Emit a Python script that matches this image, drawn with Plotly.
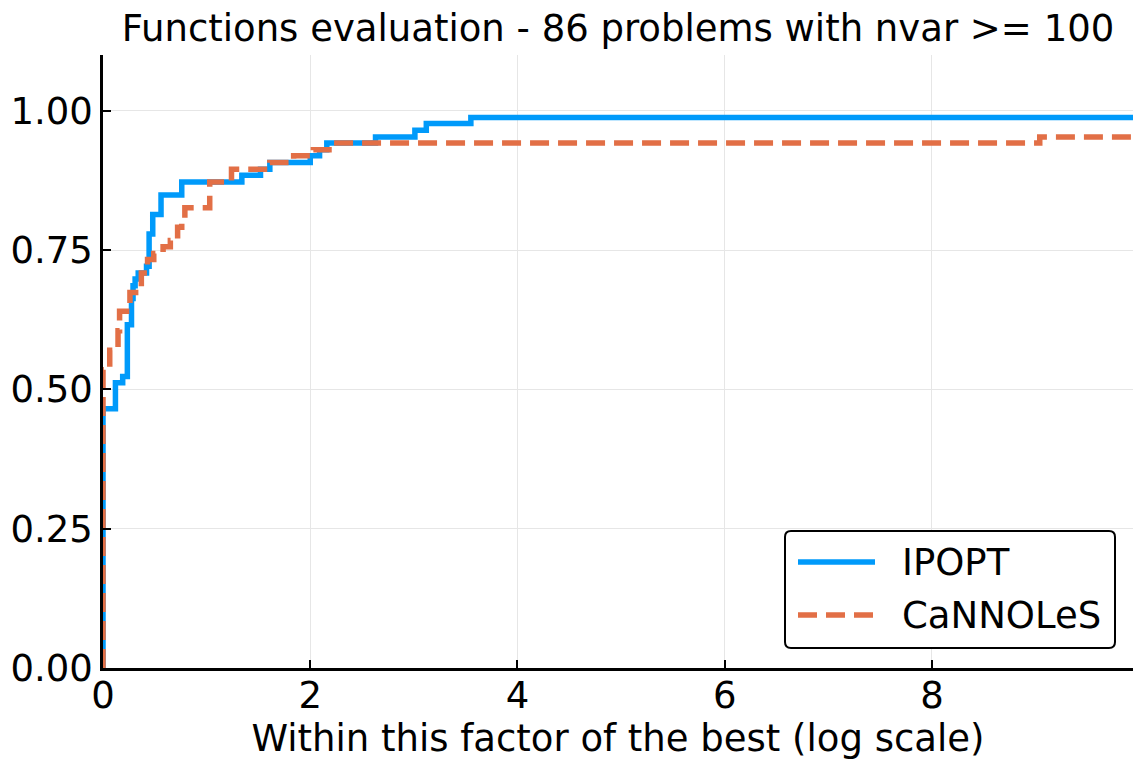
import plotly.graph_objects as go

# IPOPT step breakpoints (x: factor, y: fraction of problems)
ipopt_x = [0.0, 0.0, 0.12, 0.19, 0.235, 0.275, 0.29, 0.31, 0.34, 0.42, 0.445, 0.48, 0.56, 0.76,
           1.34, 1.52, 1.61, 2.00, 2.09, 2.16, 2.63, 3.01, 3.12, 3.55, 9.94]
ipopt_y = [0.0, 0.465, 0.512, 0.523, 0.616, 0.663, 0.686, 0.698, 0.709, 0.721, 0.779, 0.814, 0.849, 0.872,
           0.884, 0.895, 0.907, 0.919, 0.930, 0.942, 0.953, 0.965, 0.977, 0.988, 0.988]

# CaNNOLeS step breakpoints
cann_x = [0.0, 0.0, 0.065, 0.145, 0.16, 0.26, 0.37, 0.43, 0.49, 0.58, 0.65, 0.72, 0.76, 0.79,
          1.03, 1.24, 1.61, 1.84, 2.03, 2.22, 9.04, 9.94]
cann_y = [0.0, 0.535, 0.570, 0.605, 0.640, 0.674, 0.709, 0.733, 0.744, 0.756, 0.767, 0.791, 0.802, 0.826,
          0.872, 0.895, 0.907, 0.919, 0.930, 0.942, 0.953, 0.953]

x_ticks = [0, 2, 4, 6, 8]
y_ticks = [0.0, 0.25, 0.5, 0.75, 1.0]
y_tick_text = ["0.00", "0.25", "0.50", "0.75", "1.00"]

series_names = ["IPOPT", "CaNNOLeS"]
BLUE = "#009AFA"
ORANGE = "#E26F46"
FONT = "DejaVu Sans"
FS = 37

fig = go.Figure()
fig.add_trace(go.Scatter(x=ipopt_x, y=ipopt_y, mode="lines", line_shape="hv",
                         line=dict(color=BLUE, width=5.5), name=series_names[0], showlegend=False))
fig.add_trace(go.Scatter(x=cann_x, y=cann_y, mode="lines", line_shape="hv",
                         line=dict(color=ORANGE, width=5.5, dash="19px,9px"), name=series_names[1], showlegend=False))

W, H = 1133, 763
L, R, T, B = 103, 0, 55, 95
pw, ph = W - L - R, H - T - B

def px(xp):
    return (xp - L) / pw

def py(yp):
    return (H - B - yp) / ph

fig.update_layout(
    width=W, height=H,
    margin=dict(l=L, r=R, t=T, b=B),
    plot_bgcolor="white", paper_bgcolor="white",
    font=dict(family=FONT, color="black"),
    title=dict(text="Functions evaluation - 86 problems with nvar >= 100",
               x=px(618), xref="paper", xanchor="center",
               y=1 - 28 / H, yanchor="middle", font=dict(size=FS, family=FONT)),
    xaxis=dict(range=[0, 9.94], tickvals=x_ticks, ticktext=[str(v) for v in x_ticks],
               showgrid=True, gridcolor="#e6e6e6", gridwidth=1, zeroline=False,
               showline=True, linecolor="black", linewidth=2.5,
               ticks="inside", ticklen=8, tickwidth=2, tickcolor="black",
               ticklabelstandoff=-7,
               tickfont=dict(size=FS, family=FONT),
               title=dict(text="Within this factor of the best (log scale)", font=dict(size=FS, family=FONT), standoff=8)),
    yaxis=dict(range=[0, 1.1], tickvals=y_ticks, ticktext=y_tick_text,
               showgrid=True, gridcolor="#e6e6e6", gridwidth=1, zeroline=False,
               showline=True, linecolor="black", linewidth=2.5,
               ticks="inside", ticklen=8, tickwidth=2, tickcolor="black",
               tickfont=dict(size=FS, family=FONT)),
)

# Legend drawn manually (rounded box, line samples, labels)
x0, x1, y0, y1 = px(785), px(1115), py(531), py(648)
r = 6
rx = r / pw
ry = r / ph
path = (f"M {x0+rx},{y0} L {x1-rx},{y0} Q {x1},{y0} {x1},{y0-ry} L {x1},{y1+ry} Q {x1},{y1} {x1-rx},{y1} "
        f"L {x0+rx},{y1} Q {x0},{y1} {x0},{y1+ry} L {x0},{y0-ry} Q {x0},{y0} {x0+rx},{y0} Z")
fig.add_shape(type="path", path=path, xref="paper", yref="paper",
              line=dict(color="black", width=2), fillcolor="white", layer="above")
fig.add_shape(type="line", xref="paper", yref="paper", x0=px(798), x1=px(875), y0=py(562), y1=py(562),
              line=dict(color=BLUE, width=5.5), layer="above")
fig.add_shape(type="line", xref="paper", yref="paper", x0=px(798), x1=px(875), y0=py(615), y1=py(615),
              line=dict(color=ORANGE, width=5.5, dash="19px,9px"), layer="above")
fig.add_annotation(text=series_names[0], xref="paper", yref="paper", x=px(900), y=py(562),
                   xanchor="left", yanchor="middle", showarrow=False, font=dict(size=FS, family=FONT))
fig.add_annotation(text=series_names[1], xref="paper", yref="paper", x=px(900), y=py(615),
                   xanchor="left", yanchor="middle", showarrow=False, font=dict(size=FS, family=FONT))

fig.write_html("out.html")
